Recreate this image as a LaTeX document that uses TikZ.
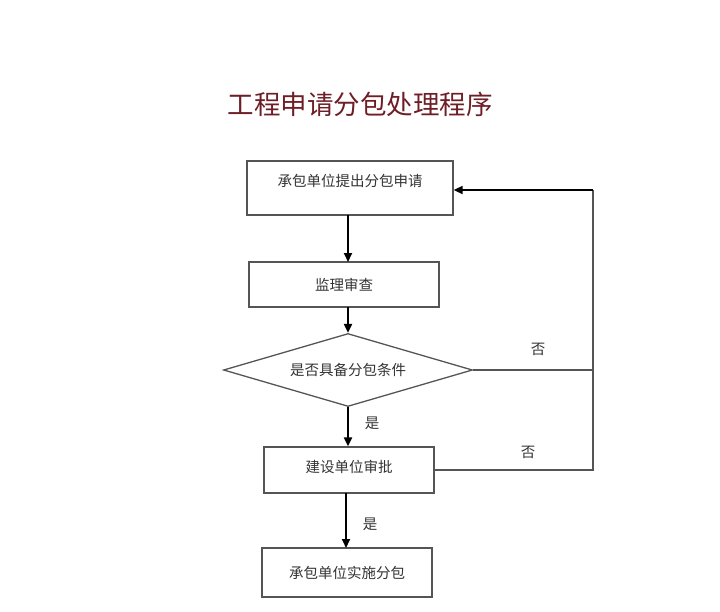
\documentclass[tikz,border=0pt]{standalone}
\usepackage{fontspec}
\newfontfamily\cjk{Noto Sans CJK SC}
\usetikzlibrary{shapes.geometric,arrows.meta}
\definecolor{titlered}{HTML}{6E1E26}
\definecolor{boxgray}{HTML}{555555}
\definecolor{txtgray}{HTML}{333333}
\tikzset{
  box/.style={draw=boxgray, line width=1.3pt, rectangle, inner sep=0pt, font=\cjk\fontsize{14.5}{16}\selectfont, text=txtgray},
  dia/.style={draw=boxgray, line width=1.3pt, diamond, inner sep=0pt},
  arr/.style={draw=black, line width=2pt, -{Triangle[length=9pt,width=8pt]}},
  conn/.style={draw=boxgray, line width=1.5pt},
  lbl/.style={font=\cjk\fontsize{14.5}{16}\selectfont, text=txtgray, inner sep=0pt}
}
\begin{document}
\begin{tikzpicture}[x=1pt,y=-1pt]
\useasboundingbox (0,0) rectangle (720,611);
\node[font=\cjk\fontsize{26.5}{30}\selectfont, text=titlered] (title) at (360,104) {工程申请分包处理程序};
\node[box, minimum width=206pt, minimum height=54pt, text height=11pt, text depth=15pt] (b1) at (350,188) {承包单位提出分包申请};
\node[box, minimum width=190pt, minimum height=45pt] (b2) at (344,284.5) {监理审查};
\node[dia, minimum width=249pt, minimum height=73pt, aspect=3.4] (d) at (348,370) {};
\node[lbl] (dt) at (d.center) {是否具备分包条件};
\node[box, minimum width=170pt, minimum height=46pt, text height=11pt, text depth=7pt] (b3) at (349,470) {建设单位审批};
\node[box, minimum width=170pt, minimum height=49pt] (b4) at (347,572.5) {承包单位实施分包};
\coordinate (c1) at (593,190);
\coordinate (c2) at (593,370);
\coordinate (c3) at (593,470);
\coordinate (a1) at (348,215);
\coordinate (a2) at (348,262);
\coordinate (a3) at (348,307);
\coordinate (a5) at (346,493);
\coordinate (a6) at (346,548);
\draw[arr] (a1) -- (a2);
\draw[arr] (a3) -- (d.north);
\draw[arr] (d.south) -- (b3.north -| d.south);
\draw[arr] (a5) -- (a6);
\draw[conn] (d.east) -- (c2);
\draw[conn] (b3.east) -- (c3) -- (c1);
\draw[arr, line width=1.7pt] (c1) -- (b1.east |- c1);
\node[lbl] (n1) at (538,349) {否};
\node[lbl] (n2) at (528,452) {否};
\node[lbl] (y1) at (372,423) {是};
\node[lbl] (y2) at (370,524) {是};
\end{tikzpicture}
\end{document}
